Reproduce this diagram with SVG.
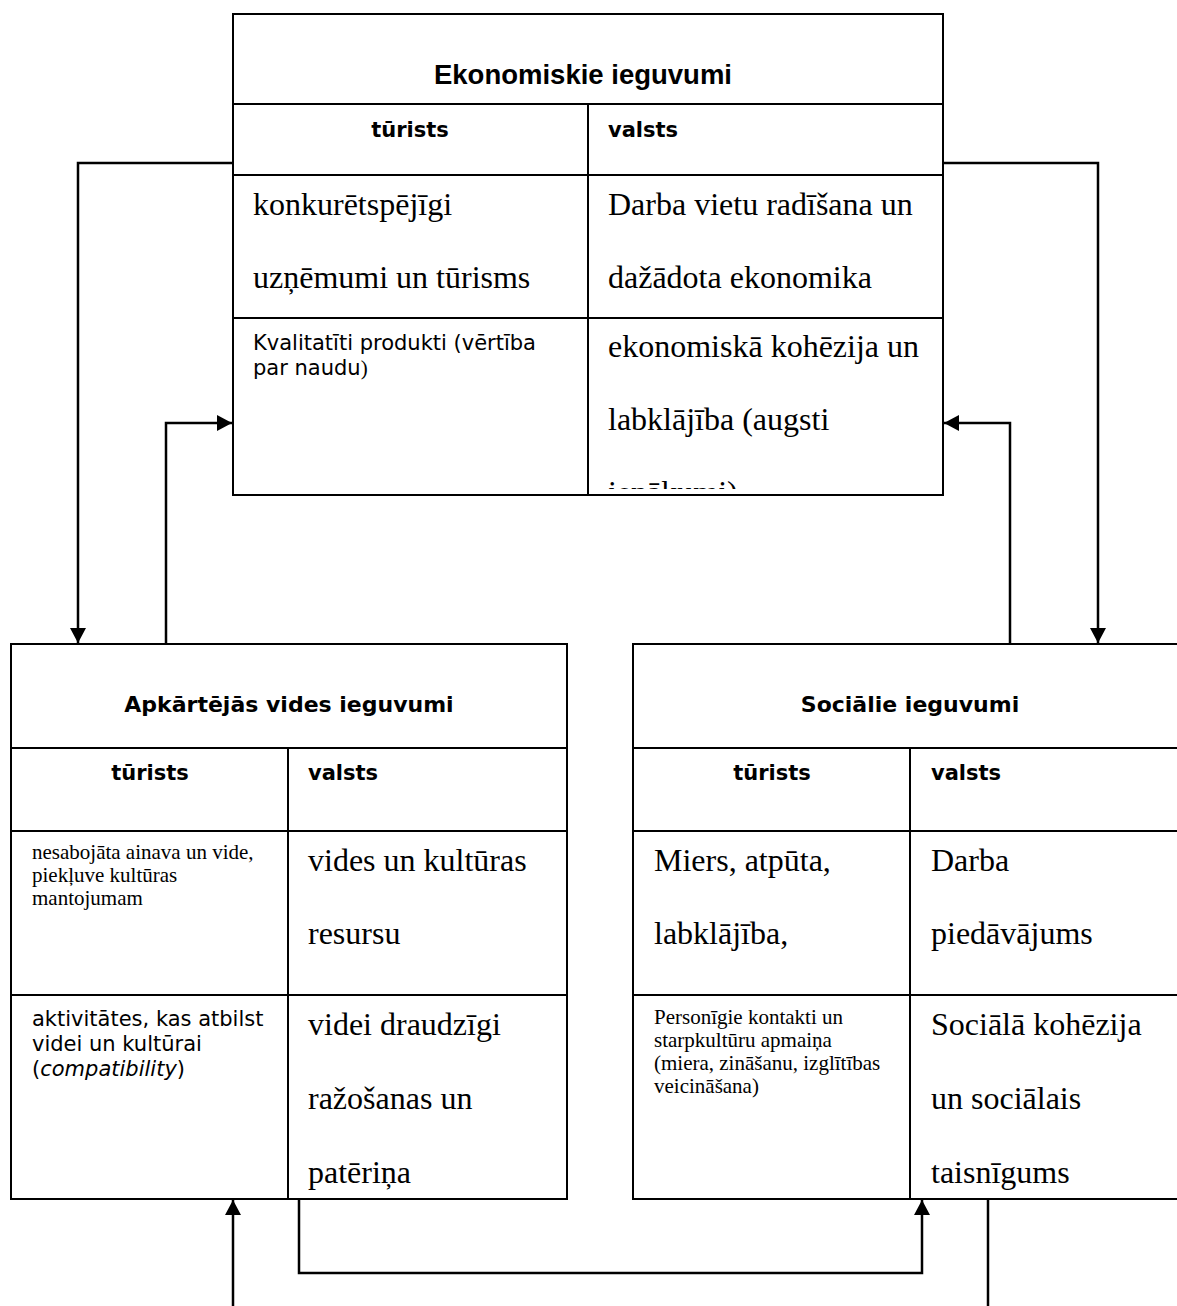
<svg xmlns="http://www.w3.org/2000/svg" width="1177" height="1306" viewBox="0 0 1177 1306">
<style>
.box{fill:#fff;stroke:#000;stroke-width:2}
.ln{stroke:#000;stroke-width:2;fill:none}
.con{stroke:#000;stroke-width:2.5;fill:none}
.t1{font-family:"Liberation Sans",Arial,sans-serif;font-weight:bold;font-size:27.5px;text-anchor:middle}
.t2{font-family:"DejaVu Sans",Verdana,sans-serif;font-weight:bold;font-size:22px;text-anchor:middle}
.hd{font-family:"DejaVu Sans",Verdana,sans-serif;font-weight:bold;font-size:21px}
.hc{text-anchor:middle}
.big{font-family:"Liberation Serif","Times New Roman",serif;font-size:32px}
.sm{font-family:"Liberation Serif","Times New Roman",serif;font-size:21px}
.vs{font-family:"DejaVu Sans",Verdana,sans-serif;font-size:21px}
</style>
<defs>
<marker id="ah" markerUnits="userSpaceOnUse" markerWidth="16" markerHeight="16" refX="15" refY="8" orient="auto">
<path d="M0,0 L15,8 L0,16 Z" fill="#000"/>
</marker>
<clipPath id="clipTop"><rect x="588" y="318" width="355" height="171"/></clipPath>
</defs>
<rect width="1177" height="1306" fill="#fff"/>

<g id="connectors">
<path class="con" d="M233,163 H78 V643" marker-end="url(#ah)"/>
<path class="con" d="M166,644 V423 H232" marker-end="url(#ah)"/>
<path class="con" d="M943,163 H1098 V643" marker-end="url(#ah)"/>
<path class="con" d="M1010,644 V423 H944" marker-end="url(#ah)"/>
<path class="con" d="M233,1306 V1200" marker-end="url(#ah)"/>
<path class="con" d="M299,1199 V1273 H922 V1200" marker-end="url(#ah)"/>
<path class="con" d="M988,1199 V1306"/>
</g>

<g id="economic">
<rect class="box" x="233" y="14" width="710" height="481"/>
<path class="ln" d="M233,104 H943 M233,175 H943 M233,318 H943 M588,104 V495"/>
<text class="t1" x="583" y="84">Ekonomiskie ieguvumi</text>
<text class="hd hc" x="410" y="137">tūrists</text>
<text class="hd" x="608" y="137">valsts</text>
<text class="big" x="253" y="215">konkurētspējīgi</text>
<text class="big" x="253" y="288">uzņēmumi un tūrisms</text>
<text class="big" x="608" y="215">Darba vietu radīšana un</text>
<text class="big" x="608" y="288">dažādota ekonomika</text>
<text class="vs" x="253" y="350">Kvalitatīti produkti (vērtība</text>
<text class="vs" x="253" y="375">par naudu<tspan font-family="Liberation Serif, serif">)</tspan></text>
<g clip-path="url(#clipTop)">
<text class="big" x="608" y="357">ekonomiskā kohēzija un</text>
<text class="big" x="608" y="430">labklājība (augsti</text>
<text class="big" x="608" y="503">ienākumi)</text>
</g>
</g>

<g id="environment">
<rect class="box" x="11" y="644" width="556" height="555"/>
<path class="ln" d="M11,748 H567 M11,831 H567 M11,995 H567 M288,748 V1199"/>
<text class="t2" x="289" y="712">Apkārtējās vides ieguvumi</text>
<text class="hd hc" x="150" y="780">tūrists</text>
<text class="hd" x="308" y="780">valsts</text>
<text class="sm" x="32" y="859">nesabojāta ainava un vide,</text>
<text class="sm" x="32" y="882">piekļuve kultūras</text>
<text class="sm" x="32" y="905">mantojumam</text>
<text class="big" x="308" y="871">vides un kultūras</text>
<text class="big" x="308" y="944">resursu</text>
<text class="vs" x="32" y="1026">aktivitātes, kas atbilst</text>
<text class="vs" x="32" y="1051">videi un kultūrai</text>
<text class="vs" x="32" y="1076">(<tspan font-style="italic">compatibility</tspan>)</text>
<text class="big" x="308" y="1035">videi draudzīgi</text>
<text class="big" x="308" y="1109">ražošanas un</text>
<text class="big" x="308" y="1183">patēriņa</text>
</g>

<g id="social">
<rect class="box" x="633" y="644" width="554" height="555"/>
<path class="ln" d="M633,748 H1187 M633,831 H1187 M633,995 H1187 M910,748 V1199"/>
<text class="t2" x="910" y="712">Sociālie ieguvumi</text>
<text class="hd hc" x="772" y="780">tūrists</text>
<text class="hd" x="931" y="780">valsts</text>
<text class="big" x="654" y="871">Miers, atpūta,</text>
<text class="big" x="654" y="944">labklājība,</text>
<text class="big" x="931" y="871">Darba</text>
<text class="big" x="931" y="944">piedāvājums</text>
<text class="sm" x="654" y="1024">Personīgie kontakti un</text>
<text class="sm" x="654" y="1047">starpkultūru apmaiņa</text>
<text class="sm" x="654" y="1070">(miera, zināšanu, izglītības</text>
<text class="sm" x="654" y="1093">veicināšana)</text>
<text class="big" x="931" y="1035">Sociālā kohēzija</text>
<text class="big" x="931" y="1109">un sociālais</text>
<text class="big" x="931" y="1183">taisnīgums</text>
</g>
</svg>
